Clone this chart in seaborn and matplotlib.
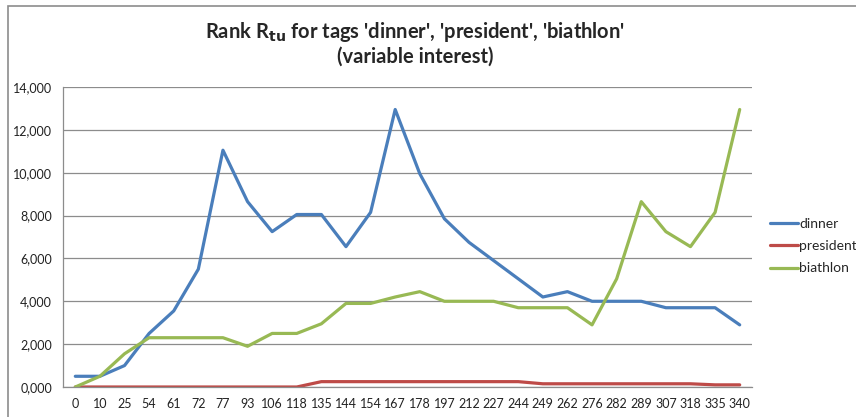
import numpy as np
import pandas as pd
import matplotlib
matplotlib.use("Agg")
import matplotlib.pyplot as plt
import seaborn as sns
from matplotlib.patches import Rectangle

sns.set_theme(style="white")
plt.rcParams["font.family"] = ["Lato", "DejaVu Sans"]

# x categories
ticks = ["0", "10", "25", "54", "61", "72", "77", "93", "106", "118", "135", "144", "154", "167",
         "178", "197", "212", "227", "244", "249", "262", "276", "282", "289", "307", "318", "335", "340"]

dinner = [500, 500, 1000, 2500, 3550, 5500, 11050, 8650, 7250, 8050, 8050, 6550, 8150, 12950,
          9950, 7850, 6750, 5900, 5050, 4200, 4450, 4000, 4000, 4000, 3700, 3700, 3700, 2900]
president = [0, 0, 0, 0, 0, 0, 0, 0, 0, 0, 250, 250, 250, 250,
             250, 250, 250, 250, 250, 150, 150, 150, 150, 150, 150, 150, 100, 100]
biathlon = [0, 500, 1550, 2300, 2300, 2300, 2300, 1900, 2500, 2500, 2950, 3900, 3900, 4200,
            4450, 4000, 4000, 4000, 3700, 3700, 3700, 2900, 5050, 8650, 7250, 6550, 8150, 12950]

series = {"dinner": dinner, "president": president, "biathlon": biathlon}
colors = {"dinner": "#4a7ebb", "president": "#be4b48", "biathlon": "#98b954"}

df = pd.concat([pd.DataFrame({"pos": range(len(ticks)), "value": v, "tag": k})
                for k, v in series.items()])

fig = plt.figure(figsize=(8.56, 4.17), dpi=100)
ax = fig.add_axes([63/856, 30/417, 689/856, 300/417])

sns.lineplot(data=df, x="pos", y="value", hue="tag", palette=colors, linewidth=2.3, ax=ax)

ax.set_xlim(-0.5, len(ticks) - 0.5)
ax.set_ylim(0, 14000)
ax.set_xticks(range(len(ticks)))
ax.set_xticklabels(ticks)
yt = np.arange(0, 14001, 2000)
ax.set_yticks(yt)
ax.set_yticklabels(["%d,%03d" % (v // 1000, v % 1000) for v in yt])
ax.tick_params(axis="both", labelsize=9, colors="#222222", length=0, pad=8)
ax.set_xlabel("")
ax.set_ylabel("")
ax.yaxis.grid(True, color="#8c8c8c", linewidth=0.9)
for s in ["top", "right"]:
  ax.spines[s].set_visible(False)
for s in ["left", "bottom"]:
  ax.spines[s].set_color("#8c8c8c")
  ax.spines[s].set_linewidth(0.9)

ax.legend(loc="center left", bbox_to_anchor=(770/856, 1 - 246/417), bbox_transform=fig.transFigure,
          frameon=False, fontsize=10, handlelength=2.0, handletextpad=0.1, labelspacing=0.75,
          borderaxespad=0, borderpad=0)

fig.text(415/856, 1 - 32/417, r"Rank R$_{\mathbf{tu}}$ for tags 'dinner', 'president', 'biathlon'",
         ha="center", va="center", fontsize=14.5, fontweight="bold")
fig.text(415/856, 1 - 57/417, "(variable interest)", ha="center", va="center",
         fontsize=14.5, fontweight="bold")

# chart frame
fig.patches.append(Rectangle((8/856, -0.1), 1.0, 1 - 6/417 + 0.1, transform=fig.transFigure,
                             fill=False, edgecolor="#8c8c8c", linewidth=1.2))

fig.savefig("out.png", dpi=100)
